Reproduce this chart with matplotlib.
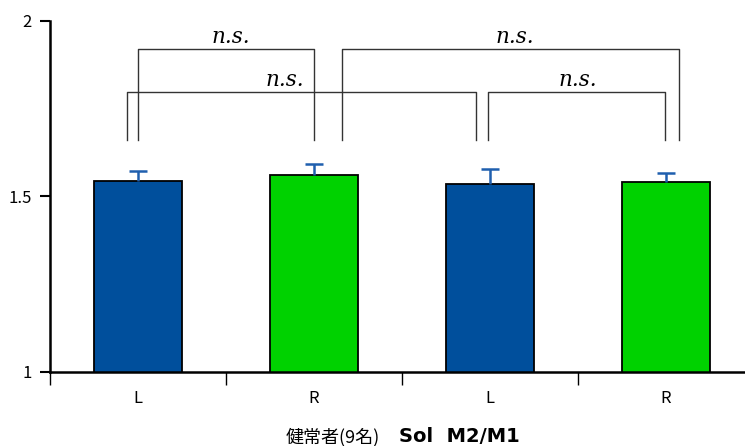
import matplotlib
matplotlib.use("Agg")
import matplotlib.pyplot as plt
import numpy as np

plt.rcParams['font.family'] = ['Noto Sans CJK JP', 'DejaVu Sans']

categories = ["L", "R", "L", "R"]
values = [1.544, 1.562, 1.536, 1.540]
errors = [0.028, 0.032, 0.043, 0.028]
colors = ["#004f9c", "#00d200", "#004f9c", "#00d200"]
# brackets: (x_start, x_end, height, text_x)
brackets = [(0.0, 1.0, 1.919, 0.53),
            (-0.065, 1.92, 1.797, 0.835),
            (1.157, 3.074, 1.919, 2.14),
            (1.99, 2.994, 1.797, 2.5)]
bracket_labels = ["n.s.", "n.s.", "n.s.", "n.s."]
leg_bottom = 1.66

fig = plt.figure(figsize=(7.45, 4.46), dpi=100)
ax = fig.add_axes([50/745, 74/446, 704/745, 351/446])

x = np.arange(len(categories))
vals = np.array(values)
errs = np.array(errors)
ax.bar(x, vals, width=0.5, color=colors, edgecolor="black", linewidth=1.3, zorder=2)
ax.vlines(x, vals, vals + errs, color="#1f5fae", linewidth=1.8, zorder=3)
ax.hlines(vals + errs, x - 0.05, x + 0.05, color="#1f5fae", linewidth=1.8, zorder=3)

for (x0, x1, h, tx), lab in zip(brackets, bracket_labels):
    ax.plot([x0, x0, x1, x1], [leg_bottom, h, h, leg_bottom], color="#333333",
            linewidth=1.0, zorder=1)
    ax.text(tx, h + 0.004, lab, ha="center", va="bottom", fontsize=15.5,
            family="DejaVu Serif", style="italic")

ax.set_xlim(-0.5, 3.5)
ax.set_ylim(1, 2)
ax.set_yticks([1, 1.5, 2])
ax.set_yticklabels(["1", "1.5", "2"], fontsize=12)
ax.tick_params(axis="y", length=7, width=1.5, direction="out", pad=6)

ax.set_xticks(x)
ax.set_xticklabels(categories, fontsize=12)
ax.set_xticks([-0.5, 0.5, 1.5, 2.5, 3.5], minor=True)
ax.tick_params(axis="x", which="major", length=0, pad=13)
ax.tick_params(axis="x", which="minor", length=9, width=1.0, direction="out")

for s in ["top", "right"]:
    ax.spines[s].set_visible(False)
ax.spines["left"].set_linewidth(1.8)
ax.spines["bottom"].set_linewidth(1.8)

fig.text(380/745, 1 - 437/446, "健常者(9名)", ha="right", va="center", fontsize=13)
fig.text(399/745, 1 - 437/446, "Sol  M2/M1", ha="left", va="center", fontsize=14,
         fontweight="bold", family="DejaVu Sans")

fig.savefig("out.png", dpi=100)
